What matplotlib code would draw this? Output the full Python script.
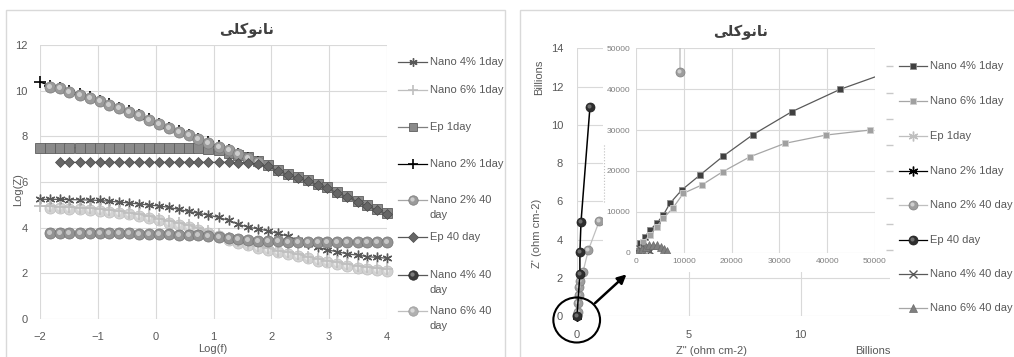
import numpy as np
import matplotlib
matplotlib.use('Agg')
import matplotlib.pyplot as plt
from matplotlib.lines import Line2D
from matplotlib.patches import Rectangle, Ellipse, FancyArrowPatch
from matplotlib.transforms import offset_copy

nan = np.nan
W, H = 1014, 357
plt.rcParams['font.family'] = ['Liberation Sans', 'DejaVu Sans']

# ---------------- data: left chart (Bode) ----------------
title_fa = "\uFBFD\uFEE0\uFB90\uFEEE\uFEE7\uFE8E\uFEE7"   # نانوکلی (shaped, visual order)
logf = [-2.0, -1.83, -1.66, -1.49, -1.31, -1.14, -0.97, -0.8, -0.63, -0.46, -0.29, -0.11,
        0.06, 0.23, 0.4, 0.57, 0.74, 0.91, 1.09, 1.26, 1.43, 1.6, 1.77, 1.94,
        2.11, 2.29, 2.46, 2.63, 2.8, 2.97, 3.14, 3.31, 3.49, 3.66, 3.83, 4.0]
nano4_1d = [5.24, 5.24, 5.24, 5.23, 5.22, 5.21, 5.19, 5.16, 5.12, 5.08, 5.04, 4.99,
            4.95, 4.89, 4.8, 4.71, 4.63, 4.55, 4.45, 4.32, 4.15, 4.02, 3.95, 3.86,
            3.75, 3.62, 3.47, 3.3, 3.15, 3.02, 2.95, 2.85, 2.8, 2.73, 2.7, 2.66]
nano6_1d = [4.95, 4.93, 4.92, 4.9, 4.88, 4.85, 4.82, 4.78, 4.72, 4.66, 4.58, 4.5,
            4.4, 4.3, 4.2, 4.1, 3.98, 3.86, 3.72, 3.56, 3.42, 3.3, 3.2, 3.1,
            3.0, 2.92, 2.83, 2.73, 2.64, 2.56, 2.48, 2.4, 2.33, 2.27, 2.22, 2.18]
ep_1d = [7.5, 7.5, 7.5, 7.5, 7.5, 7.5, 7.5, 7.5, 7.5, 7.5, 7.5, 7.5,
         7.49, 7.49, 7.48, 7.48, 7.47, 7.44, 7.38, 7.28, 7.17, 7.08, 6.93, 6.74,
         6.53, 6.35, 6.2, 6.07, 5.93, 5.76, 5.57, 5.39, 5.18, 4.99, 4.8, 4.63]
nano2_1d = [10.38, 10.22, 10.12, 9.98, 9.85, 9.72, 9.56, 9.4, 9.24, 9.1, 8.94, 8.74,
            8.55, 8.38, 8.23, 8.06, 7.89, 7.73, 7.57, 7.4, 7.24, 7.07, 6.88, nan,
            nan, nan, nan, nan, nan, nan, nan, nan, nan, nan, nan, nan]
nano2_40d = [nan, 10.17, 10.1, 9.95, 9.82, 9.7, 9.54, 9.38, 9.22, 9.08, 8.92, 8.72,
             8.53, 8.36, 8.21, 8.04, 7.87, 7.71, 7.55, 7.38, 7.22, 7.05, 6.86, nan,
             nan, nan, nan, nan, nan, nan, nan, nan, nan, nan, nan, nan]
ep_40d = [nan, nan, 6.86, 6.86, 6.86, 6.86, 6.86, 6.86, 6.86, 6.86, 6.86, 6.86,
          6.86, 6.86, 6.86, 6.86, 6.86, 6.86, 6.86, 6.86, 6.85, 6.83, 6.78, 6.68,
          6.5, 6.32, 6.17, 6.03, 5.89, 5.72, 5.53, 5.35, 5.14, 4.95, 4.76, 4.59]
nano4_40d = [nan, 3.76, 3.76, 3.76, 3.76, 3.76, 3.76, 3.75, 3.75, 3.75, 3.74, 3.73,
             3.72, 3.71, 3.7, 3.68, 3.66, 3.64, 3.6, 3.55, 3.5, 3.46, 3.43, 3.41,
             3.4, 3.39, 3.39, 3.38, 3.38, 3.37, 3.37, 3.37, 3.36, 3.36, 3.36, 3.36]
nano6_40d = [nan, 4.85, 4.84, 4.82, 4.8, 4.77, 4.74, 4.7, 4.64, 4.58, 4.5, 4.42,
             4.32, 4.22, 4.12, 4.02, 3.9, 3.78, 3.64, 3.48, 3.34, 3.22, 3.12, 3.02,
             2.92, 2.84, 2.75, 2.65, 2.56, 2.48, 2.4, 2.32, 2.25, 2.19, 2.14, 2.1]
left_xticks = [-2, -1, 0, 1, 2, 3, 4]
left_yticks = [0, 2, 4, 6, 8, 10, 12]

# ---------------- data: right chart (Nyquist, billions) ----------------
ep40_x = [0.0, 0.13, 0.13, 0.18, 0.58]
ep40_y = [0.0, 2.22, 3.36, 4.93, 10.94]
n2_40_x = [0.0, 0.04, 0.06, 0.08, 0.1, 0.12, 0.27, 0.51, 1.0]
n2_40_y = [0.05, 0.22, 0.66, 1.1, 1.53, 1.85, 2.32, 3.45, 4.98]
ep1_x = [0.0, 0.01, 0.02]
ep1_y = [0.0, 0.01, 0.03]
n2_1_x = [0.0, 0.01]
n2_1_y = [0.0, 0.02]
right_xticks = [0, 5, 10]
right_yticks = [0, 2, 4, 6, 8, 10, 12, 14]

# inset (ohm)
in_n4_1d_x = [200, 840, 1880, 2930, 4330, 5710, 7110, 9560, 13390, 18270, 24450, 32570, 42680, 56000]
in_n4_1d_y = [300, 2300, 3910, 5550, 7190, 9220, 12080, 15330, 19000, 23640, 28860, 34480, 39950, 45500]
in_n6_1d_x = [200, 1530, 2930, 4330, 5710, 7680, 9900, 13740, 18130, 23850, 31170, 39750, 48950]
in_n6_1d_y = [250, 2690, 4330, 6360, 8410, 10860, 14520, 16550, 19800, 23470, 26750, 28780, 30000]
in_n2_40_x = [9200, 9250]
in_n2_40_y = [44300, 90000]
in_n6_40_x = [500, 1200, 2000, 2800, 3600, 4400, 5200, 5900, 6400]
in_n6_40_y = [400, 1000, 1500, 1800, 1900, 1800, 1500, 1000, 400]
in_n4_40_x = [300, 900, 1600, 2300, 3000]
in_n4_40_y = [300, 800, 1100, 800, 300]
inset_ticks = [0, 10000, 20000, 30000, 40000, 50000]

# ---------------- styles ----------------
ast = (6, 2, 0)
L = {
    'n4_1d': dict(color='#595959', marker=ast, ms=7, mfc='#595959', mec='#595959', mew=1.0),
    'n6_1d': dict(color='#bfbfbf', marker='+', ms=8, mfc='#bfbfbf', mec='#bfbfbf', mew=1.2),
    'ep_1d': dict(color='#7f7f7f', marker='s', ms=7.2, mfc='#8a8a8a', mec='#5e5e5e', mew=0.6),
    'n2_1d': dict(color='#000000', marker='+', ms=8, mfc='k', mec='k', mew=1.2),
    'n2_40': dict(color='#a6a6a6', marker='o', ms=8, mfc='#9a9a9a', mec='#7a7a7a', mew=0.5, hl='#d6d6d6'),
    'ep_40': dict(color='#595959', marker='D', ms=5.5, mfc='#666666', mec='#4a4a4a', mew=0.5),
    'n4_40': dict(color='#595959', marker='o', ms=8, mfc='#939393', mec='#737373', mew=0.5, hl='#d0d0d0'),
    'n6_40': dict(color='#bfbfbf', marker='o', ms=8, mfc='#d2d2d2', mec='#bdbdbd', mew=0.5, hl='#eeeeee'),
}
R = {
    'n4_1d': dict(color='#595959', marker='s', ms=5, mfc='#404040', mec='#8c8c8c', mew=0.6),
    'n6_1d': dict(color='#a6a6a6', marker='s', ms=5, mfc='#a0a0a0', mec='#d0d0d0', mew=0.6),
    'ep_1d': dict(color='#bfbfbf', marker=ast, ms=7, mfc='#bfbfbf', mec='#bfbfbf', mew=1.0),
    'n2_1d': dict(color='#000000', marker=ast, ms=7, mfc='k', mec='k', mew=1.0),
    'n2_40': dict(color='#bfbfbf', marker='o', ms=6.5, mfc='#9d9d9d', mec='#808080', mew=0.5, hl='#d8d8d8'),
    'ep_40': dict(color='#000000', marker='o', ms=6.5, mfc='#2e2e2e', mec='#1a1a1a', mew=0.5, hl='#7a7a7a'),
    'n4_40': dict(color='#595959', marker='x', ms=6, mfc='#595959', mec='#595959', mew=1.0),
    'n6_40': dict(color='#a6a6a6', marker='^', ms=6, mfc='#7f7f7f', mec='#6a6a6a', mew=0.5),
}

fig = plt.figure(figsize=(W / 100, H / 100), dpi=100)
fig.patch.set_facecolor('white')


def box(l, t, r, b):
    return [l / W, 1 - b / H, (r - l) / W, (b - t) / H]


def fx(px):
    return px / W


def fy(py):
    return 1 - py / H


def draw(ax, x, y, st, z, lw=0.9, clip=False, line=True):
    if line:
        ax.plot(x, y, color=st['color'], lw=lw, zorder=z, clip_on=clip)
    ax.plot(x, y, ls='none', marker=st['marker'], ms=st['ms'], mfc=st['mfc'],
            mec=st['mec'], mew=st['mew'], zorder=z + 0.1, clip_on=clip)
    if 'hl' in st:
        tr = offset_copy(ax.transData, fig=fig, x=-1.0, y=1.0, units='dots')
        ax.plot(x, y, ls='none', marker='o', ms=st['ms'] * 0.45, mfc=st['hl'],
                mec='none', alpha=0.85, zorder=z + 0.2, clip_on=clip, transform=tr)


def handle(x0, x1, y, st, lw=0.9, scale=1.0):
    fig.add_artist(Line2D([fx(x0), fx(x1)], [fy(y), fy(y)], transform=fig.transFigure,
                          color=st['color'], lw=lw))
    xm = (x0 + x1) / 2
    ms = st['ms'] * scale
    fig.add_artist(Line2D([fx(xm)], [fy(y)], transform=fig.transFigure, ls='none',
                          marker=st['marker'], ms=ms, mfc=st['mfc'], mec=st['mec'],
                          mew=st['mew']))
    if 'hl' in st:
        tr = offset_copy(fig.transFigure, fig=fig, x=-1.0, y=1.0, units='dots')
        fig.add_artist(Line2D([fx(xm)], [fy(y)], transform=tr, ls='none', marker='o',
                              ms=ms * 0.45, mfc=st['hl'], mec='none', alpha=0.85))


def style_axes(ax, fs=8, pad=7, color='#595959'):
    for s in ax.spines.values():
        s.set_visible(False)
    ax.grid(True, color='#d9d9d9', lw=0.8)
    ax.set_axisbelow(True)
    ax.tick_params(length=0, labelsize=fs, labelcolor=color, pad=pad)


GREY = '#595959'

# panel borders
fig.add_artist(Rectangle((fx(6), fy(362)), fx(505) - fx(6), fy(10) - fy(362),
                         transform=fig.transFigure, fill=False, ec='#d9d9d9', lw=1, zorder=-5))
fig.add_artist(Rectangle((fx(520), fy(362)), fx(1020) - fx(520), fy(10) - fy(362),
                         transform=fig.transFigure, fill=False, ec='#d9d9d9', lw=1, zorder=-5))

# ---------------- left chart ----------------
ax1 = fig.add_axes(box(40, 45, 387, 319))
style_axes(ax1, pad=9)
ax1.set_xlim(-2, 4)
ax1.set_ylim(0, 12)
ax1.set_xticks(left_xticks)
ax1.set_yticks(left_yticks)
draw(ax1, logf, nano4_1d, L['n4_1d'], 3)
draw(ax1, logf, nano6_1d, L['n6_1d'], 4)
draw(ax1, logf, ep_1d, L['ep_1d'], 5)
draw(ax1, logf, nano2_1d, L['n2_1d'], 6)
draw(ax1, logf, nano2_40d, L['n2_40'], 7)
draw(ax1, logf, ep_40d, L['ep_40'], 8)
draw(ax1, logf, nano4_40d, L['n4_40'], 9)
draw(ax1, logf, nano6_40d, L['n6_40'], 2)

fig.text(fx(247), fy(30), title_fa, ha='center', va='center', fontsize=10.5,
         fontweight='bold', color='#404040', family=['DejaVu Sans'])
fig.text(fx(18), fy(190), 'Log(Z)', rotation=90, ha='center', va='center', fontsize=8, color=GREY)
fig.text(fx(213), fy(349), 'Log(f)', ha='center', va='center', fontsize=8, color=GREY)

left_leg = [('n4_1d', ['Nano 4% 1day'], 61.7), ('n6_1d', ['Nano 6% 1day'], 90),
            ('ep_1d', ['Ep 1day'], 126.7), ('n2_1d', ['Nano 2% 1day'], 164),
            ('n2_40', ['Nano 2% 40', 'day'], 200), ('ep_40', ['Ep 40 day'], 237),
            ('n4_40', ['Nano 4% 40', 'day'], 275), ('n6_40', ['Nano 6% 40', 'day'], 311)]
leg_override = {'n4_40': dict(L['n4_40'], mfc='#3a3a3a', mec='#262626', hl='#8a8a8a'),
                'n6_40': dict(L['n6_40'], mfc='#b0b0b0', mec='#9a9a9a', hl='#e0e0e0')}
for key, lines, y in left_leg:
    st = leg_override.get(key, L[key])
    handle(398, 427, y, st, scale=0.85)
    for i, t in enumerate(lines):
        fig.text(fx(430), fy(y + 15 * i), t, ha='left', va='center', fontsize=8, color=GREY)

# ---------------- right chart ----------------
ax2 = fig.add_axes(box(577, 48.3, 890, 316))
style_axes(ax2, pad=10)
ax2.set_xlim(0, 14)
ax2.set_ylim(0, 14)
ax2.set_xticks(right_xticks)
ax2.set_yticks(right_yticks)
draw(ax2, ep1_x, ep1_y, R['ep_1d'], 3)
draw(ax2, n2_1_x, n2_1_y, R['n2_1d'], 4)
draw(ax2, n2_40_x, n2_40_y, R['n2_40'], 5)
draw(ax2, ep40_x, ep40_y, R['ep_40'], 6, lw=1.1)

fig.text(fx(539), fy(77), 'Billions', rotation=90, ha='center', va='center', fontsize=8, color=GREY)
fig.text(fx(537), fy(233), "Z' (ohm cm-2)", rotation=90, ha='center', va='center', fontsize=8, color=GREY)
fig.text(fx(712), fy(351), 'Z" (ohm cm-2)', ha='center', va='center', fontsize=8, color=GREY)
fig.text(fx(873), fy(351), 'Billions', ha='center', va='center', fontsize=8, color=GREY)
fig.text(fx(741), fy(32), title_fa, ha='center', va='center', fontsize=10.5,
         fontweight='bold', color='#404040', family=['DejaVu Sans'])

# white backing of the inset chart
bg = fig.add_axes(box(603, 40, 895, 272))
bg.set_facecolor('white')
bg.set_xticks([])
bg.set_yticks([])
for s in bg.spines.values():
    s.set_visible(False)
bg.plot([0.005, 0.005], [0.3, 0.55], transform=bg.transAxes, color='#bfbfbf', lw=0.8, ls=':')

ax3 = fig.add_axes(box(636, 48.3, 875, 252.7))
ax3.set_facecolor('white')
style_axes(ax3, fs=6, pad=4, color='#7f7f7f')
ax3.set_xlim(0, 50000)
ax3.set_ylim(0, 50000)
ax3.set_xticks(inset_ticks)
ax3.set_yticks(inset_ticks)
ax3.set_xticklabels([str(t) for t in inset_ticks], family=['Liberation Sans Narrow', 'Liberation Sans'])
ax3.set_yticklabels([str(t) for t in inset_ticks], family=['Liberation Sans Narrow', 'Liberation Sans'])
draw(ax3, in_n4_1d_x, in_n4_1d_y, R['n4_1d'], 3, lw=0.9, clip=True)
draw(ax3, in_n6_1d_x, in_n6_1d_y, R['n6_1d'], 4, lw=0.9, clip=True)
draw(ax3, in_n2_40_x, in_n2_40_y, R['n2_40'], 5, lw=1.0, clip=True)
draw(ax3, in_n4_40_x, in_n4_40_y, R['n4_40'], 6, lw=0.8, clip=True)
draw(ax3, in_n6_40_x, in_n6_40_y, R['n6_40'], 7, lw=0.8, clip=True)

tw = ax3.twinx()
tw.set_ylim(-0.103, 7.69)
tw.set_yticks(range(8))
for s in tw.spines.values():
    s.set_visible(False)
tw.spines['right'].set_position(('outward', 8))
tw.tick_params(axis='y', length=5, width=1, color='#c8c8c8', labelright=False, direction='out')

right_leg = [('n4_1d', 'Nano 4% 1day', 65.7), ('n6_1d', 'Nano 6% 1day', 100.7),
             ('ep_1d', 'Ep 1day', 136), ('n2_1d', 'Nano 2% 1day', 170.7),
             ('n2_40', 'Nano 2% 40 day', 205), ('ep_40', 'Ep 40 day', 240),
             ('n4_40', 'Nano 4% 40 day', 274.3), ('n6_40', 'Nano 6% 40 day', 308.3)]
for key, t, y in right_leg:
    handle(899, 927, y, R[key])
    fig.text(fx(930), fy(y), t, ha='left', va='center', fontsize=8, color=GREY)

# zoom marker: circle and arrow
fig.add_artist(Ellipse((fx(576.7), fy(320)), 46.7 / W, 45 / H, transform=fig.transFigure,
                       fill=False, ec='black', lw=1.5, zorder=20))
fig.add_artist(FancyArrowPatch((fx(593), fy(305)), (fx(628.5), fy(272.5)), transform=fig.transFigure,
                               arrowstyle='-|>', mutation_scale=13, lw=1.8, color='black', zorder=20))

fig.savefig('out.png', dpi=100, facecolor='white')
